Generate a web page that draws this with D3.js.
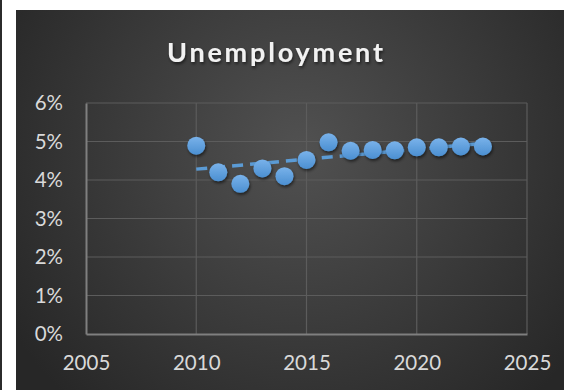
<!DOCTYPE html>
<html>
<head>
<meta charset="utf-8">
<script src="https://cdn.jsdelivr.net/npm/d3@7"></script>
<style>
	html, body { margin: 0; padding: 0; background: #fff; }
	svg { display: block; }
	text { font-family: Lato, "Open Sans", sans-serif; }
</style>
</head>
<body>
<div id="chart"></div>
<script>
// data
const years = [2010, 2011, 2012, 2013, 2014, 2015, 2016, 2017, 2018, 2019, 2020, 2021, 2022, 2023];
const rates = [0.0489, 0.0420, 0.0390, 0.0430, 0.0410, 0.0452, 0.0498, 0.0476, 0.0478, 0.0477, 0.0485, 0.0485, 0.0487, 0.0487];
const xTicks = [2005, 2010, 2015, 2020, 2025];
const yTicks = [0, 0.01, 0.02, 0.03, 0.04, 0.05, 0.06];
const title = 'Unemployment';

const width = 564;
const height = 390;

const svg = d3.select('#chart')
	.append('svg')
	.attr('width', width)
	.attr('height', height);

const defs = svg.append('defs');

const bg = defs.append('radialGradient')
	.attr('id', 'bg')
	.attr('gradientUnits', 'userSpaceOnUse')
	.attr('cx', 300).attr('cy', 150).attr('r', 340);
bg.append('stop').attr('offset', '0%').attr('stop-color', '#515151');
bg.append('stop').attr('offset', '100%').attr('stop-color', '#272727');

const dot = defs.append('linearGradient')
	.attr('id', 'dot')
	.attr('x1', 0).attr('y1', 0).attr('x2', 0).attr('y2', 1);
dot.append('stop').attr('offset', '0%').attr('stop-color', '#79b2ea');
dot.append('stop').attr('offset', '100%').attr('stop-color', '#4b8fd1');

const shadow = defs.append('filter')
	.attr('id', 'shadow')
	.attr('x', '-50%').attr('y', '-50%').attr('width', '200%').attr('height', '200%');
shadow.append('feDropShadow')
	.attr('dx', 1).attr('dy', 2).attr('stdDeviation', 1.5)
	.attr('flood-color', '#000').attr('flood-opacity', 0.55);

// page frame: dark strip, white gap, chart area
svg.append('rect').attr('x', 0).attr('y', 0).attr('width', 2).attr('height', height).attr('fill', '#2b2b2b');
svg.append('rect').attr('x', 16).attr('y', 10).attr('width', width - 16).attr('height', height - 10).attr('fill', 'url(#bg)');

const x = d3.scaleLinear().domain([2005, 2025]).range([86, 527]);
const y = d3.scaleLinear().domain([0, 0.06]).range([334, 103]);

// gridlines
svg.append('g')
	.selectAll('line.h')
	.data(yTicks.slice(1))
	.join('line')
	.attr('x1', x(2005)).attr('x2', x(2025))
	.attr('y1', d => y(d)).attr('y2', d => y(d))
	.attr('stroke', '#5c5c5c').attr('stroke-width', 1.2);

svg.append('g')
	.selectAll('line.v')
	.data(xTicks.slice(1))
	.join('line')
	.attr('x1', d => x(d)).attr('x2', d => x(d))
	.attr('y1', y(0)).attr('y2', y(0.06))
	.attr('stroke', '#5c5c5c').attr('stroke-width', 1.2);

// axes
const yAxis = svg.append('g')
	.attr('transform', `translate(${x(2005)},0)`)
	.call(d3.axisLeft(y).tickValues(yTicks).tickFormat(d3.format('.0%')).tickSize(0).tickPadding(23));

const xAxis = svg.append('g')
	.attr('transform', `translate(0,${y(0)})`)
	.call(d3.axisBottom(x).tickValues(xTicks).tickFormat(d3.format('d')).tickSize(0).tickPadding(21));

[yAxis, xAxis].forEach(g => {
	g.select('.domain').attr('stroke', '#7f7f7f').attr('stroke-width', 2);
	g.selectAll('text')
		.attr('fill', '#d9d9d9')
		.attr('font-size', 20.5);
});

// linear trendline from least squares
const mx = d3.mean(years);
const my = d3.mean(rates);
const slope = d3.sum(years, (d, i) => (d - mx) * (rates[i] - my)) / d3.sum(years, d => (d - mx) * (d - mx));
const trend = years.map(d => [d, my + slope * (d - mx)]);

svg.append('path')
	.datum([trend[0], trend[trend.length - 1]])
	.attr('d', d3.line().x(d => x(d[0])).y(d => y(d[1])))
	.attr('fill', 'none')
	.attr('stroke', '#5b9bd5')
	.attr('stroke-width', 3.5)
	.attr('stroke-dasharray', '11,7');

// points
svg.append('g')
	.selectAll('circle')
	.data(years)
	.join('circle')
	.attr('cx', d => x(d))
	.attr('cy', (d, i) => y(rates[i]))
	.attr('r', 9)
	.attr('fill', 'url(#dot)')
	.attr('filter', 'url(#shadow)');

// title
svg.append('text')
	.attr('x', 275)
	.attr('y', 62)
	.attr('text-anchor', 'middle')
	.attr('font-size', 27)
	.attr('font-weight', 'bold')
	.attr('fill', '#f2f2f2')
	.attr('textLength', 216)
	.attr('lengthAdjust', 'spacing')
	.attr('filter', 'url(#shadow)')
	.text(title);
</script>
</body>
</html>
